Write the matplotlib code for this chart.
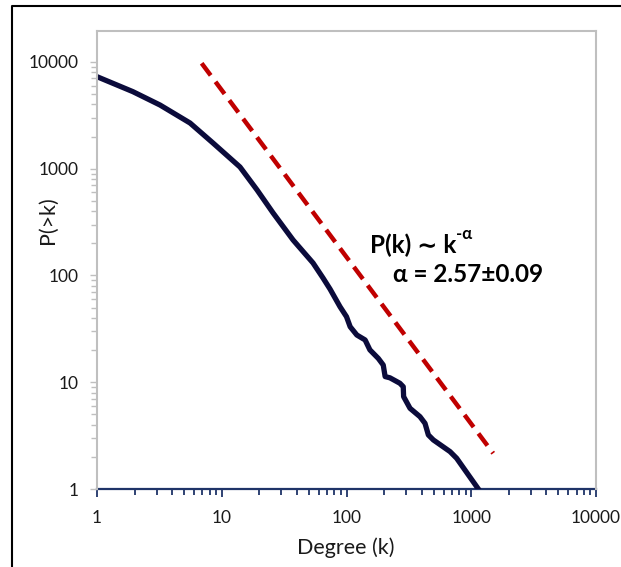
import matplotlib

matplotlib.use("Agg")
import matplotlib.pyplot as plt
from matplotlib.lines import Line2D
from matplotlib.ticker import FixedLocator, LogLocator, NullFormatter
import numpy as np

plt.rcParams['font.family'] = ['Lato', 'DejaVu Sans']

# cumulative degree distribution
degree = [1, 1.94, 3.2, 5.57, 8.5, 14, 19.2, 25.8, 37.3, 53.9, 64.8, 73.8,
          88.7, 100, 107, 121, 141, 154, 180, 197, 204, 223, 268, 285, 287,
          323, 388, 426, 453, 497, 676, 764, 1140]
p_gt_k = [7280, 5270, 3950, 2680, 1743, 1038, 632, 385, 215, 131, 94.8, 74.6,
          51, 41.1, 33.1, 27.7, 24.9, 20.1, 16.7, 14.5, 11.3, 11.0, 9.78, 9.08,
          7.33, 5.70, 4.76, 4.12, 3.21, 2.88, 2.24, 1.94, 1.0]

# power-law guide line (end points)
fit_k = [6.9, 1500]
fit_p = [9720, 2.16]

ticks = [1, 10, 100, 1000, 10000]
tick_labels = ['1', '10', '100', '1000', '10000']

navy = '#0b0b3b'
red = '#c00000'
axis_navy = '#1f3468'
grey = '#bfbfbf'

fig = plt.figure(figsize=(6.21, 5.67), dpi=100)
ax = fig.add_axes([97 / 621, 1 - 489 / 567, 499 / 621, 458 / 567])

ax.plot(degree, p_gt_k, color=navy, lw=3.8, solid_joinstyle='round')
ax.plot(fit_k, fit_p, color=red, lw=3.2, dashes=(3.4, 1.8))

ax.set_xscale('log')
ax.set_yscale('log')
ax.set_xlim(1, 10000)
ax.set_ylim(1, 10 ** 4.29)

for a in (ax.xaxis, ax.yaxis):
    a.set_major_locator(FixedLocator(ticks))
    a.set_minor_locator(LogLocator(base=10, subs=np.arange(2, 10)))
    a.set_minor_formatter(NullFormatter())
ax.set_xticklabels(tick_labels)
ax.set_yticklabels(tick_labels)

ax.tick_params(axis='x', which='major', direction='out', length=6, width=1.3,
               color=axis_navy, pad=9, labelsize=12.5, labelcolor='#1a1a1a')
ax.tick_params(axis='x', which='minor', direction='out', length=4.5, width=1.3,
               color=axis_navy)
ax.tick_params(axis='y', which='major', direction='out', length=5, width=1,
               color=grey, pad=8, labelsize=12.5, labelcolor='#1a1a1a')
ax.tick_params(axis='y', which='minor', direction='out', length=4, width=1,
               color=grey)

for side in ('left', 'top', 'right'):
    ax.spines[side].set_color(grey)
    ax.spines[side].set_linewidth(1.5)
ax.spines['bottom'].set_color(axis_navy)
ax.spines['bottom'].set_linewidth(1.6)
ax.spines['bottom'].set_zorder(1)

ax.set_xlabel('Degree (k)', fontsize=15.5, color='#1a1a1a')
ax.set_ylabel('P(>k)', fontsize=15.5, color='#1a1a1a')
ax.xaxis.set_label_coords((346 - 97) / 499, (489 - 548) / 458)
ax.yaxis.set_label_coords((48 - 97) / 499, (489 - 220) / 458)
ax.xaxis.label.set_va('center')
ax.yaxis.label.set_va('center')

t1 = fig.text(370 / 621, 1 - 245 / 567, 'P(k) \u223c k', fontsize=17.5,
              fontweight='bold', va='center', ha='left', color='black')
ax.annotate('-\u03b1', xy=(1.0, 0.62), xycoords=t1, fontsize=12,
            fontweight='bold', va='bottom', ha='left', color='black')
fig.text(393 / 621, 1 - 275 / 567, '\u03b1 = 2.57\u00b10.09', fontsize=17.5,
         fontweight='bold', va='center', ha='left', color='black')

# partial frame around the figure
fig.add_artist(Line2D([12 / 621, 12 / 621, 1], [0, 1 - 6 / 567, 1 - 6 / 567],
                      transform=fig.transFigure, color='black', lw=1.5))

fig.savefig('out.png', dpi=100)
